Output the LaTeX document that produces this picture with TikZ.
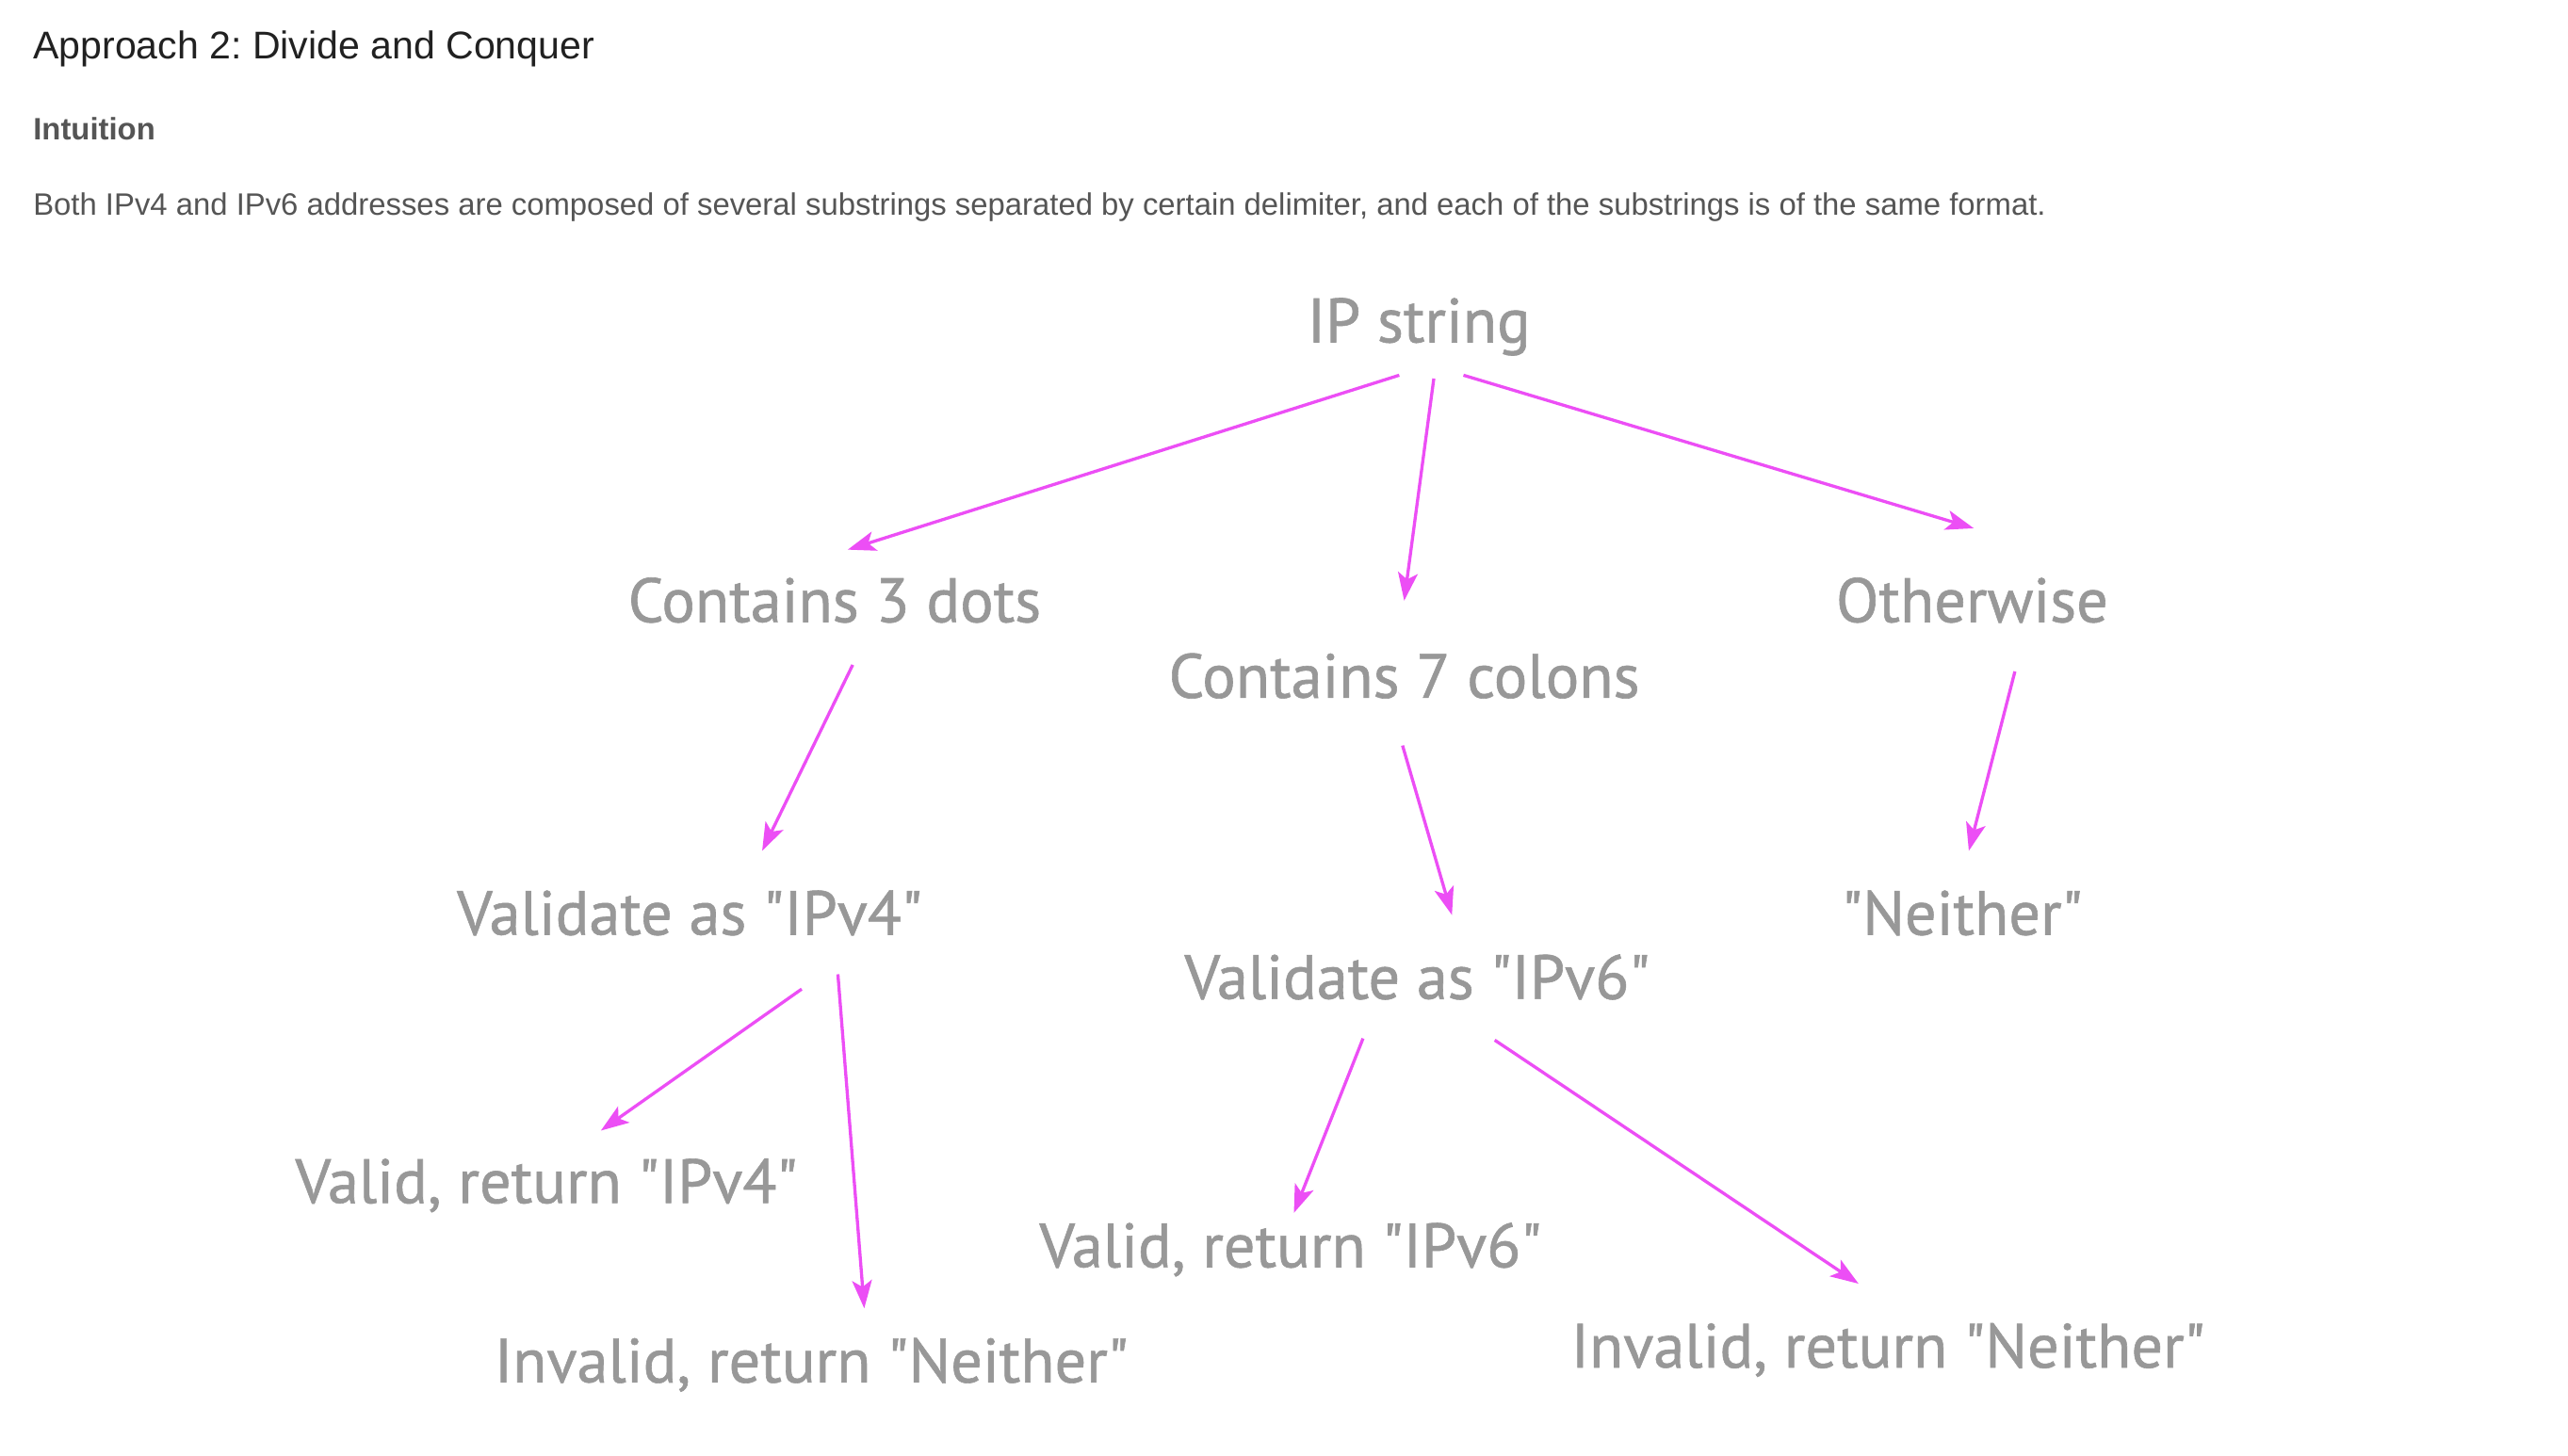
\documentclass[tikz,border=0pt]{standalone}
\usepackage{fontspec}
\setmainfont{Liberation Sans}
\newfontfamily\handfont[BoldFont={PT Sans},BoldFeatures={FakeBold=0.9}]{PT Sans}
\usetikzlibrary{arrows.meta,calc}
\definecolor{arrowpink}{RGB}{236,78,245}
\definecolor{labelgray}{RGB}{152,152,152}
\definecolor{textgray}{RGB}{85,85,85}
\tikzset{
  lbl/.style={anchor=base,inner sep=0pt,text=labelgray,font=\handfont\bfseries\fontsize{38}{44}\selectfont},
  arr/.style={draw=arrowpink,line width=1.9pt,-{Stealth[length=17pt,width=12pt,inset=4pt]}}
}
\frenchspacing
\begin{document}
\begin{tikzpicture}[x=1pt,y=-1pt]
    \useasboundingbox (0,0) rectangle (1560,884.7);
    % header text
    \node[anchor=base west,inner sep=0pt,text=black!87,font=\fontsize{23.5}{28}\selectfont] (title) at (20,36) {Approach 2: Divide and Conquer};
    \node[anchor=base west,inner sep=0pt,text=textgray,font=\bfseries\fontsize{18.8}{22}\selectfont] (intuition) at (20,85) {Intuition};
    \node[anchor=base west,inner sep=0pt,text=textgray,font=\fontsize{18.8}{22}\selectfont] (body) at (20,131) {Both IPv4 and IPv6 addresses are composed of several substrings separated by certain delimiter, and each of the substrings is of the same format.};
    % tree labels
    \node[lbl] (ip) at (862,208) {IP string};
    \node[lbl] (dots) at (507,378) {Contains 3 dots};
    \node[lbl] (colons) at (853,424) {Contains 7 colons};
    \node[lbl] (other) at (1198,378) {Otherwise};
    \node[lbl] (vfour) at (419,568) {Validate as "IPv4"};
    \node[lbl] (vsix) at (861,607) {Validate as "IPv6"};
    \node[lbl] (neither) at (1192,568) {"Neither"};
    \node[lbl] (okfour) at (332,731) {Valid, return "IPv4"};
    \node[lbl] (badfour) at (493,840) {Invalid, return "Neither"};
    \node[lbl] (oksix) at (784,770) {Valid, return "IPv6"};
    \node[lbl] (badsix) at (1147,831) {Invalid, return "Neither"};
    % arrows
    \draw[arr] ($(ip.base)+(-12,20)$) -- ($(dots.base)+(8,-44)$);
    \draw[arr] ($(ip.base)+(9,22)$) -- ($(colons.base)+(0,-59)$);
    \draw[arr] ($(ip.base)+(27,20)$) -- ($(other.base)+(1,-57)$);
    \draw[arr] ($(dots.base)+(11,26)$) -- ($(vfour.base)+(44,-51)$);
    \draw[arr] ($(colons.base)+(-1,29)$) -- ($(vsix.base)+(21,-51)$);
    \draw[arr] ($(other.base)+(26,30)$) -- ($(neither.base)+(4,-51)$);
    \draw[arr] ($(vfour.base)+(68,33)$) -- ($(okfour.base)+(33,-44)$);
    \draw[arr] ($(vfour.base)+(90,24)$) -- ($(badfour.base)+(32,-45)$);
    \draw[arr] ($(vsix.base)+(-33,24)$) -- ($(oksix.base)+(2,-33)$);
    \draw[arr] ($(vsix.base)+(47,25)$) -- ($(badsix.base)+(-18,-51)$);
\end{tikzpicture}
\end{document}
